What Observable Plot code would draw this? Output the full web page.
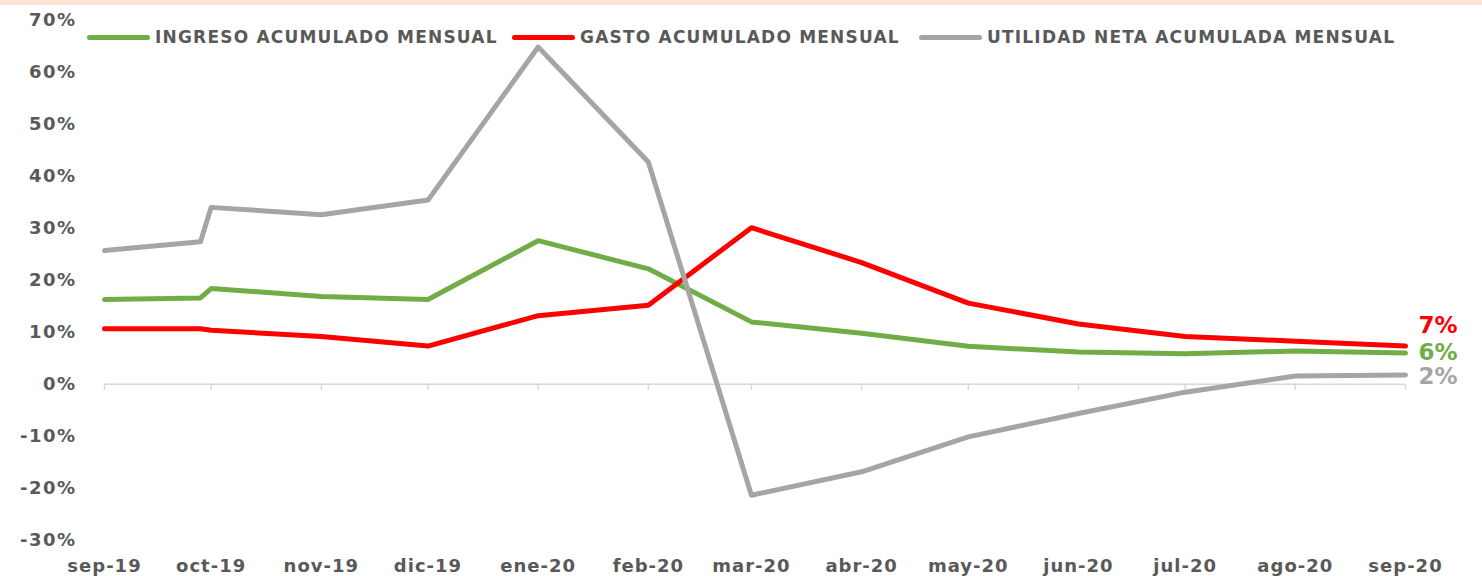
<!DOCTYPE html>
<html><head><meta charset="utf-8">
<script src="https://cdn.jsdelivr.net/npm/d3@7"></script>
<script src="https://cdn.jsdelivr.net/npm/@observablehq/plot@0.6"></script>
<style>
body{margin:0;background:#fff;}
#wrap{position:relative;width:1482px;height:576px;overflow:hidden;font-family:"DejaVu Sans",sans-serif;}
#band{position:absolute;left:0;top:0;width:1482px;height:5px;background:#FBE5D6;}
.leg{position:absolute;top:27px;display:flex;align-items:center;font-weight:bold;font-size:17px;letter-spacing:1.2px;color:#595959;white-space:nowrap;height:20px}
.leg i{display:inline-block;width:63px;height:5px;border-radius:3px;margin-right:5px}
#wrap svg{position:absolute;left:0;top:0}
g[aria-label="y-axis tick label"] text{letter-spacing:1.5px}
g[aria-label="x-axis tick label"] text{letter-spacing:1px}
g[aria-label="endlabel"] text{letter-spacing:2.5px}
</style></head>
<body><div id="wrap"><div id="band"></div></div>
<script>
const dates = ["2019-09-01","2019-09-28","2019-10-01","2019-11-01","2019-12-01","2020-01-01","2020-02-01","2020-03-01","2020-04-01","2020-05-01","2020-06-01","2020-07-01","2020-08-01","2020-09-01"];
const monthTicks = ["2019-09-01","2019-10-01","2019-11-01","2019-12-01","2020-01-01","2020-02-01","2020-03-01","2020-04-01","2020-05-01","2020-06-01","2020-07-01","2020-08-01","2020-09-01"];
const monthLabels = ["sep-19","oct-19","nov-19","dic-19","ene-20","feb-20","mar-20","abr-20","may-20","jun-20","jul-20","ago-20","sep-20"];
const yTicks = [-30,-20,-10,0,10,20,30,40,50,60,70];
const series = ["INGRESO ACUMULADO MENSUAL","GASTO ACUMULADO MENSUAL","UTILIDAD NETA ACUMULADA MENSUAL"];
const colors = ["#70AD47","#FF0000","#A5A5A5"];
const ingreso  = [16.3, 16.6, 18.4, 16.9, 16.3, 27.6, 22.2, 12.0, 9.8, 7.3, 6.2, 5.9, 6.4, 6.0];
const gasto    = [10.7, 10.7, 10.4, 9.2, 7.35, 13.2, 15.2, 30.1, 23.4, 15.6, 11.6, 9.2, 8.3, 7.35];
const utilidad = [25.7, 27.4, 34.0, 32.6, 35.4, 64.8, 42.7, -21.3, -16.8, -10.1, -5.6, -1.5, 1.6, 1.8];

const values = [ingreso, gasto, utilidad];
const rows = series.flatMap((s, k) => dates.map((d, i) => ({series: s, date: new Date(d), value: values[k][i]})));
const last = series.map((s, k) => ({series: s, date: new Date(dates[dates.length - 1]), value: values[k][values[k].length - 1]}));
const tickDates = monthTicks.map(d => new Date(d));
const endDy = [0, -20, 1.5];

const chart = Plot.plot({
  width: 1482, height: 576,
  marginTop: 19.5, marginBottom: 36, marginLeft: 104, marginRight: 77,
  style: {fontFamily: "DejaVu Sans", background: "transparent", overflow: "visible"},
  x: {type: "utc", domain: [tickDates[0], tickDates[tickDates.length - 1]]},
  y: {domain: [-30, 70]},
  color: {domain: series, range: colors},
  marks: [
    Plot.ruleY([0], {stroke: "#D9D9D9", strokeWidth: 1.5}),
    Plot.ruleX(tickDates, {x: d => d, y1: 0, y2: 0, insetBottom: -6, stroke: "#D9D9D9", strokeWidth: 1.5}),
    Plot.axisY({ticks: yTicks, tickSize: 0, tickPadding: 28, tickFormat: d => d + "%", fontSize: 18, fontWeight: "bold", fill: "#595959", label: null}),
    Plot.axisX({ticks: tickDates, tickSize: 0, tickPadding: 19, tickFormat: d => monthLabels[tickDates.findIndex(t => +t === +d)], fontSize: 18, fontWeight: "bold", fill: "#595959", label: null}),
    Plot.line(rows, {x: "date", y: "value", z: "series", stroke: "series", strokeWidth: 5}),
    ...series.map((s, k) => Plot.text(last.filter(d => d.series === s), {
      x: "date", y: "value", text: d => Math.round(d.value) + "%",
      dx: 13, dy: endDy[k], textAnchor: "start", fontSize: 23, fontWeight: "bold", fill: colors[k], ariaLabel: "endlabel"
    }))
  ]
});
const wrap = document.getElementById("wrap");
wrap.appendChild(chart);

const legLeft = [87, 512, 919];
series.forEach((s, k) => {
  const div = document.createElement("div");
  div.className = "leg";
  div.style.left = legLeft[k] + "px";
  const sw = document.createElement("i");
  sw.style.background = colors[k];
  div.appendChild(sw);
  div.appendChild(document.createTextNode(s));
  wrap.appendChild(div);
});
</script>
</body></html>
